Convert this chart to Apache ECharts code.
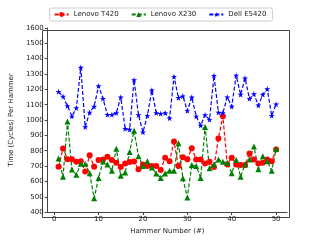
<!DOCTYPE html>
<html>
<head>
<meta charset="utf-8">
<script src="https://cdn.jsdelivr.net/npm/echarts@6/dist/echarts.min.js"></script>
<style>html,body{margin:0;padding:0;background:#fff}#c{width:320px;height:240px}</style>
</head>
<body>
<div id="c"></div>
<script>
var hammer = [1,2,3,4,5,6,7,8,9,10,11,12,13,14,15,16,17,18,19,20,21,22,23,24,25,26,27,28,29,30,31,32,33,34,35,36,37,38,39,40,41,42,43,44,45,46,47,48,49,50];
var t420 = [695,815,745,745,728,732,665,770,696,739,743,760,739,722,694,716,726,730,680,711,701,701,701,675,754,732,860,701,758,745,817,743,743,716,728,694,880,1025,711,754,711,707,707,782,743,716,722,743,732,808];
var x230 = [750,631,990,677,644,715,715,654,490,622,730,711,669,813,637,658,792,930,764,701,732,690,652,622,652,669,669,849,620,495,707,701,622,955,686,711,743,728,722,654,740,631,711,743,828,680,764,732,670,812];
var e5420 = [1185,1154,1092,1024,1079,1342,955,1050,1088,1222,1139,1035,1035,1046,1149,944,938,1261,1033,921,1029,1194,1046,1041,1046,1012,1283,1145,1156,1060,1149,1024,965,1033,1003,1289,1050,1046,1149,1088,1291,1166,1272,1139,1170,1096,1166,1202,1029,1103];
var seriesNames = ['Lenovo T420','Lenovo X230','Dell E5420'];
var yTicks = [400,500,600,700,800,900,1000,1100,1200,1300,1400,1500,1600];
var xTicks = [0,10,20,30,40,50];

function pairs(v){ return hammer.map(function(h,i){ return [h, v[i]]; }); }
var star = 'path://M0,-10L2.245,-3.09L9.51,-3.09L3.633,1.18L5.878,8.09L0,3.82L-5.878,8.09L-3.633,1.18L-9.51,-3.09L-2.245,-3.09Z';
var font = 'DejaVu Sans';
var chart = echarts.init(document.getElementById('c'), null, {renderer:'canvas'});
function mk(name, data, color, symbol, size){
  return {name:name, type:'line', data:pairs(data), symbol:symbol, symbolSize:size,
    showAllSymbol:true, animation:false,
    lineStyle:{color:color, width:1.2, type:[4,2]},
    itemStyle:{color:color, borderWidth:0}};
}
chart.setOption({
  animation:false,
  textStyle:{fontFamily:font},
  grid:{left:40, right:33, top:28, bottom:25},
  legend:{top:8, left:'center', padding:[3,6,3,4], itemGap:12, itemWidth:14, itemHeight:6,
    borderColor:'#cccccc', borderWidth:1, borderRadius:2,
    textStyle:{fontSize:7, color:'#222', fontFamily:font},
    data:seriesNames},
  xAxis:{type:'value', min:-1.45, max:52.45,
    name:'Hammer Number (#)', nameLocation:'middle', nameGap:15,
    nameTextStyle:{fontSize:7, color:'#222', fontFamily:font},
    axisLine:{onZero:false, lineStyle:{color:'#444', width:1}},
    axisTick:{show:true, length:3, lineStyle:{color:'#444'}, customValues:xTicks},
    axisLabel:{fontSize:7, color:'#222', margin:4, customValues:xTicks, fontFamily:font},
    splitLine:{show:false}},
  yAxis:{type:'value', min:400, max:1600, interval:100,
    name:'Time (Cycles) Per Hammer', nameLocation:'middle', nameGap:28,
    nameTextStyle:{fontSize:7, color:'#222', fontFamily:font},
    axisLine:{show:true, onZero:false, lineStyle:{color:'#444', width:1}},
    axisTick:{show:true, length:3, lineStyle:{color:'#444'}},
    axisLabel:{fontSize:7, color:'#222', margin:4, fontFamily:font, formatter:function(v){return String(v);}},
    splitLine:{show:false}},
  graphic:[{type:'rect', left:40, top:28, shape:{width:247, height:187}, style:{fill:null, stroke:'#444', lineWidth:1}, silent:true, z:0}],
  series:[
    mk(seriesNames[0], t420, '#ff0000', 'circle', 6),
    mk(seriesNames[1], x230, '#008000', 'triangle', 6),
    mk(seriesNames[2], e5420, '#0000ff', star, 6)
  ]
});
</script>
</body>
</html>
